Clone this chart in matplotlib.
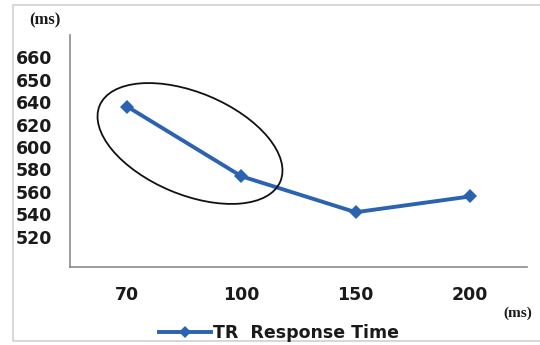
import numpy as np
import matplotlib
matplotlib.use("Agg")
import matplotlib.pyplot as plt
from matplotlib.patches import Ellipse, Rectangle
from matplotlib.transforms import IdentityTransform

# Data
categories = ["70", "100", "150", "200"]
response_time = [636, 574, 542, 556]
y_ticks = [520, 540, 560, 580, 600, 620, 640, 650, 660]
series_label = "TR  Response Time"

LINE_BLUE = "#2B63B0"
TEXT = "#1a1a1a"

# The value axis is compressed above 640 (steps of 10 instead of 20)
def fwd(v):
    v = np.asarray(v, dtype=float)
    return np.where(v > 640, 640 + 2 * (v - 640), v)

def inv(p):
    p = np.asarray(p, dtype=float)
    return np.where(p > 640, 640 + (p - 640) / 2, p)

W, H, DPI = 540, 345, 100
fig = plt.figure(figsize=(W / DPI, H / DPI), dpi=DPI)
fig.patch.set_facecolor("white")

# thin grey outer border
fig.patches.append(Rectangle((13 / W, 4 / H), 1.2, 1 - 9 / H,
                             transform=fig.transFigure, fill=False,
                             edgecolor="#cfcfcf", linewidth=1.2))

ax = fig.add_axes([70 / W, 1 - 267 / H, (527 - 70) / W, (267 - 35) / H])
ax.set_yscale("function", functions=(fwd, inv))

x = np.arange(len(categories))
line, = ax.plot(x, response_time, color=LINE_BLUE, linewidth=2.8,
                marker="D", markersize=7.5, markeredgewidth=0,
                label=series_label)

ax.set_xlim(-0.5, len(categories) - 0.5)
ax.set_ylim(493.3, 669.8)
ax.set_xticks(x)
ax.set_xticklabels(categories)
ax.set_yticks(y_ticks)
ax.set_yticklabels([str(t) for t in y_ticks])
ax.minorticks_off()

for s in ("top", "right"):
    ax.spines[s].set_visible(False)
for s in ("left", "bottom"):
    ax.spines[s].set_color("#8c8c8c")
    ax.spines[s].set_linewidth(1.2)

ax.tick_params(axis="y", length=0, pad=13, labelsize=12.5, labelcolor=TEXT)
ax.tick_params(axis="x", length=0, pad=13.5, labelsize=12.5, labelcolor=TEXT)
for lab in ax.get_xticklabels() + ax.get_yticklabels():
    lab.set_fontweight("bold")

# unit labels
fig.text(45 / W, 1 - 20 / H, "(ms)", family="Liberation Serif", weight="bold",
         fontsize=12, color=TEXT, ha="center", va="center")
fig.text(518 / W, 1 - 313 / H, "(ms)", family="Liberation Serif", weight="bold",
         fontsize=11, color=TEXT, ha="center", va="center")

# highlight ellipse around the first segment
ell = Ellipse((190, H - 143.5), 196, 102, angle=-22.8,
              transform=IdentityTransform(), fill=False,
              edgecolor="#111111", linewidth=1.3)
fig.patches.append(ell)

fig.legend(handles=[line], loc="center", bbox_to_anchor=(279 / W, 1 - 333 / H),
           frameon=False, prop={"size": 12.5, "weight": "semibold"},
           handlelength=3.0, handletextpad=0.1, markerscale=0.85,
           borderpad=0, labelcolor=TEXT)

fig.savefig("out.png", dpi=DPI)
